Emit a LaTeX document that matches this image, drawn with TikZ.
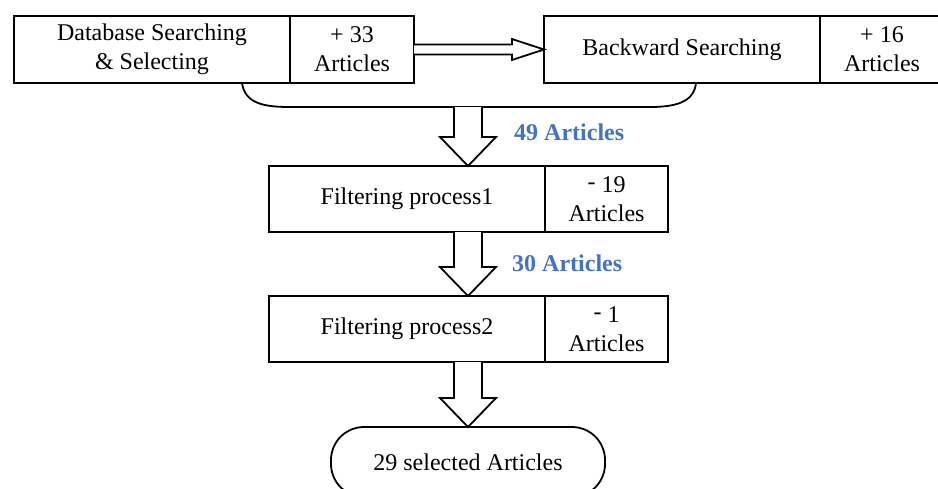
\documentclass[tikz,border=0pt]{standalone}
\usepackage{fontspec}
\setmainfont{Liberation Serif}
\usetikzlibrary{calc}
\definecolor{countblue}{RGB}{68,114,196}
\tikzset{
  base/.style={draw, line width=1.8pt, inner sep=0pt, outer sep=0pt,
    font=\fontsize{24}{29}\selectfont, align=center},
  stagebox/.style={base, rectangle, minimum width=276pt, minimum height=67pt},
  countbox/.style={base, rectangle, minimum width=124pt, minimum height=67pt},
  endbox/.style={base, rectangle, rounded corners=33pt, minimum width=274pt, minimum height=70pt},
  blockarrow/.style={draw, line width=1.8pt, fill=white, line join=miter},
  countlabel/.style={anchor=west, inner sep=0pt, text=countblue,
    font=\fontsize{24}{29}\selectfont\bfseries},
}
% hollow block arrow pointing down: #1 = start of shaft, #2 = tip
\newcommand\hollowdown[2]{%
  \draw[blockarrow] ($(#1)+(-14,0)$) -- ($(#2)+(-14,-29)$) -- ($(#2)+(-28,-29)$)
    -- (#2) -- ($(#2)+(28,-29)$) -- ($(#2)+(14,-29)$) -- ($(#1)+(14,0)$);}
\begin{document}
\begin{tikzpicture}[x=1pt, y=-1pt]
\path[use as bounding box, clip] (0,0) rectangle (938,488);

% first stage: database and backward searching
\node[stagebox] (dbs) at (152,49.5) {Database Searching\\\& Selecting};
\node[countbox] (dbn) at (352,49.5) {+ 33\\Articles};
\node[stagebox] (bws) at (682,49.5) {Backward Searching};
\node[countbox] (bwn) at (882,49.5) {+ 16\\Articles};

% filtering stages
\node[stagebox, minimum height=66pt] (f1) at (407,199) {Filtering process1};
\node[countbox, minimum width=123pt, minimum height=66pt] (f1n) at (606.5,199) {\raisebox{0.12em}{-} 19\\Articles};
\node[stagebox, minimum height=66pt] (f2) at (407,329) {Filtering process2};
\node[countbox, minimum width=123pt, minimum height=66pt] (f2n) at (606.5,329) {\raisebox{0.12em}{-} 1\\Articles};

% result
\node[endbox] (sel) at (468,462) {29 selected Articles};

% horizontal hollow arrow between the searches
\draw[blockarrow] ($(dbn.east)+(0,-5)$) -- ($(bws.west)+(-32,-5)$) -- ($(bws.west)+(-32,-10.5)$)
  -- (bws.west) -- ($(bws.west)+(-32,10.5)$) -- ($(bws.west)+(-32,5)$) -- ($(dbn.east)+(0,5)$);

% bracket joining both searches
\coordinate (jl) at (242,83);
\coordinate (jr) at (696,83);
\coordinate (merge) at (469,107);
\draw[line width=1.8pt] (jl) .. controls (245,104) and (265,107) .. (290,107)
  -- (650,107) .. controls (676,107) and (694,102) .. (jr);

% downward flow
\hollowdown{sel |- merge}{sel |- f1.north}
\hollowdown{sel |- f1.south}{sel |- f2.north}
\hollowdown{sel |- f2.south}{sel.north}

% running totals
\node[countlabel] (c49) at (514,132) {49 Articles};
\node[countlabel] (c30) at (512,263) {30 Articles};
\end{tikzpicture}
\end{document}
